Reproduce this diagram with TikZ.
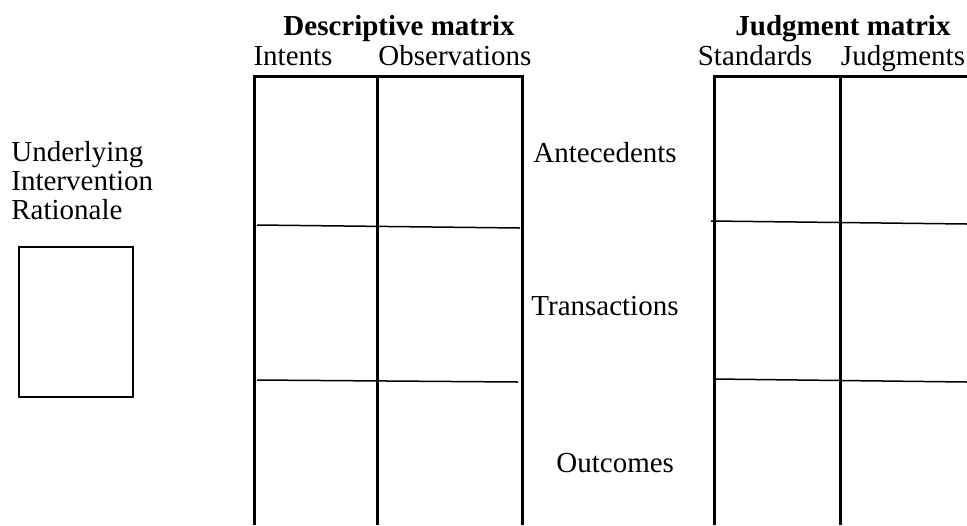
\documentclass[tikz,border=0pt]{standalone}
\usepackage{fontspec}
\setmainfont{Liberation Serif}
\tikzset{grid line/.style={black,line width=1.5pt},
         row line/.style={black,line width=0.75pt},
         every node/.style={inner sep=0pt,font=\fontsize{14.5}{14.5}\selectfont}}

\begin{document}
\begin{tikzpicture}[x=0.5pt,y=-0.5pt]
   \useasboundingbox (0,0) rectangle (967,525);
   % descriptive matrix
   \draw[grid line] (254.5,525) -- (254.5,76) -- (522,76) -- (522,525);
   \draw[grid line] (377,76) -- (377,525);
   \draw[row line] (257,225) -- (520,228);
   \draw[row line] (257,380) -- (518,382);
   % judgment matrix
   \draw[grid line] (714,525) -- (714,76) -- (967,76);
   \draw[grid line] (840,76) -- (840,525);
   \draw[row line] (711,221) -- (967,224);
   \draw[row line] (714,379) -- (967,382);
   % rationale box
   \draw[black,line width=1.2pt] (19,247) rectangle (133,397);
   \node[anchor=base,font=\fontsize{14.5}{14.5}\selectfont\bfseries] (desc) at (399,35) {Descriptive matrix};
   \node[anchor=base] (intents) at (293,65) {Intents};
   \node[anchor=base] (obs) at (455,65) {Observations};
   \node[anchor=base,font=\fontsize{14.5}{14.5}\selectfont\bfseries] (judg) at (843,35) {Judgment matrix};
   \node[anchor=base] (stand) at (755,65) {Standards};
   \node[anchor=base] (judgm) at (903,65) {Judgments};
   \node[anchor=base west] (ante) at (533,162) {Antecedents};
   \node[anchor=base west] (trans) at (531,315) {Transactions};
   \node[anchor=base west] (out) at (556,472) {Outcomes};
   \node[anchor=north west,align=left] (rat) at (11,141) {Underlying\\Intervention\\Rationale};
\end{tikzpicture}
\end{document}
